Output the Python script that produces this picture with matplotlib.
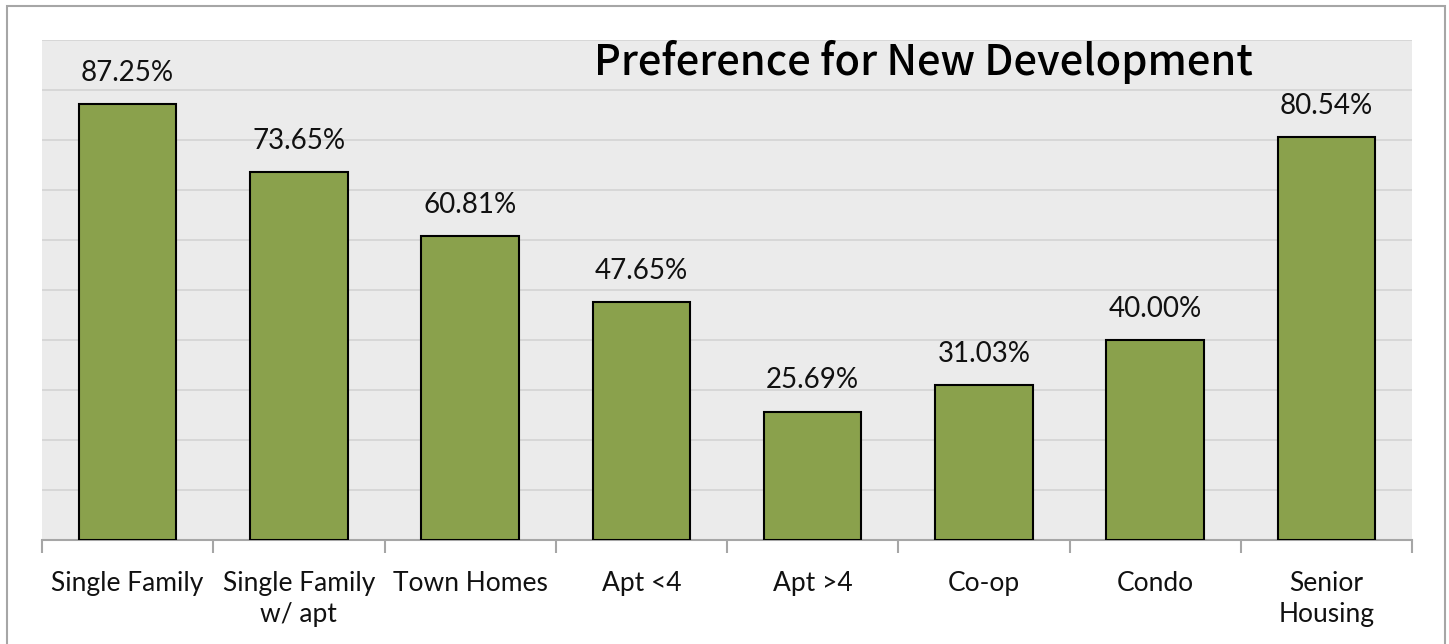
import matplotlib
matplotlib.use("Agg")
import matplotlib.pyplot as plt
from matplotlib.patches import Rectangle
import numpy as np

categories = ["Single Family", "Single Family\nw/ apt", "Town Homes", "Apt <4",
              "Apt >4", "Co-op", "Condo", "Senior\nHousing"]
values = [87.25, 73.65, 60.81, 47.65, 25.69, 31.03, 40.00, 80.54]
title = "Preference for New Development"

W, H = 1449, 644
fig = plt.figure(figsize=(W / 100, H / 100), dpi=100)
fig.patch.set_facecolor("white")

# outer chart frame
fig.patches.append(Rectangle((7 / W, -0.01), (1445 - 7) / W, 1 - 6 / H + 0.01,
                             transform=fig.transFigure, fill=False,
                             edgecolor="#a6a6a6", linewidth=1.5))

ax = fig.add_axes([42 / W, 1 - 540 / H, (1412 - 42) / W, 500 / H])
ax.set_facecolor("#ebebeb")

x = np.arange(len(categories))
bars = ax.bar(x, values, width=0.57, color="#8aa14c", edgecolor="black",
              linewidth=1.5, zorder=3)

ax.set_xlim(-0.5, len(categories) - 0.5)
ax.set_ylim(0, 100)
ax.set_yticks(np.arange(0, 101, 10))
ax.yaxis.grid(True, color="#d4d4d4", linewidth=1.2, zorder=0)
ax.tick_params(axis="y", left=False, labelleft=False)

for spine in ["top", "right", "left"]:
    ax.spines[spine].set_visible(False)
ax.spines["bottom"].set_color("#a6a6a6")
ax.spines["bottom"].set_linewidth(1.5)

label_font = "Lato"
ax.set_xticks(np.arange(-0.5, len(categories), 1.0), minor=False)
ax.set_xticklabels([])
ax.tick_params(axis="x", which="major", length=9, width=1.5, color="#a6a6a6")
ax.set_xticks(x, minor=True)
ax.set_xticklabels(categories, minor=True, fontsize=19, family=label_font,
                   color="#111111", linespacing=1.3)
ax.tick_params(axis="x", which="minor", length=0, pad=22)

for rect, v in zip(bars, values):
    ax.annotate(f"{v:.2f}%", (rect.get_x() + rect.get_width() / 2, v),
                xytext=(0, 13), textcoords="offset points", ha="center",
                va="bottom", fontsize=20, family=label_font, color="#111111")

fig.text(923 / W, 1 - 75 / H, title, ha="center", va="baseline", fontsize=30,
         family="Noto Sans CJK JP", weight="medium", color="black")

fig.savefig("out.png", dpi=100)
